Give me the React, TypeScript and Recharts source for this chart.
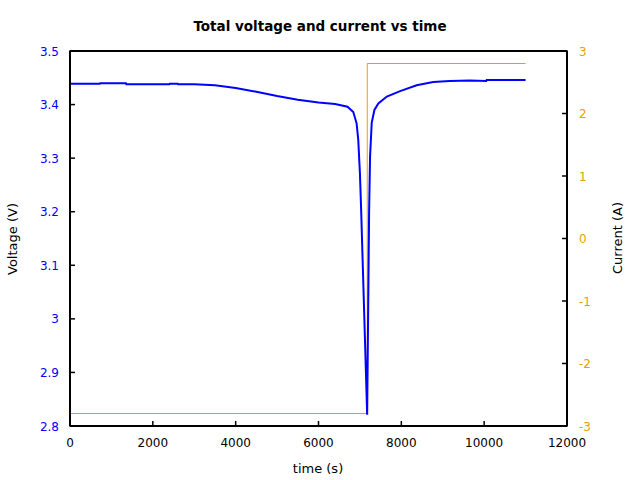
import { LineChart, Line, XAxis, YAxis, Label, ReferenceArea } from "recharts";

// Voltage trace (s, V)
const timeS = [
  0, 720, 730, 1350, 1360, 2400, 2410, 2600, 2610, 3000, 3500, 4000, 4500, 5000,
  5500, 6000, 6400, 6700, 6840, 6920, 6960, 7000, 7030, 7175, 7222, 7245, 7285,
  7350, 7445, 7650, 7970, 8370, 8770, 9170, 9650, 10050, 10060, 11000,
];
const voltageV = [
  3.439, 3.439, 3.44, 3.44, 3.438, 3.438, 3.439, 3.439, 3.438, 3.438, 3.436,
  3.431, 3.424, 3.416, 3.409, 3.404, 3.401, 3.396, 3.386, 3.365, 3.334, 3.272,
  3.203, 2.821, 3.2, 3.303, 3.366, 3.39, 3.402, 3.415, 3.425, 3.436, 3.442,
  3.444, 3.445, 3.444, 3.446, 3.446,
];

// Current step (s, A)
const currentTimeS = [0, 7177, 7177, 11000];
const currentA = [-2.8, -2.8, 2.8, 2.8];

const timeTicks = [0, 2000, 4000, 6000, 8000, 10000, 12000];
const voltageTicks = [2.8, 2.9, 3.0, 3.1, 3.2, 3.3, 3.4, 3.5];
const currentTicks = [-3, -2, -1, 0, 1, 2, 3];

const BLUE = "#0000ff";
const ORANGE = "#e69f00";
const INK = "#000000";
const FONT = "'DejaVu Sans', sans-serif";

// plot frame (gnuplot-like box, ticks point inward -- recharts ignores a
// negative tickSize, so the tick marks are drawn by the custom ticks)
const LEFT = 70;
const RIGHT = 567;
const TOP = 51;
const BOTTOM = 426;
const TICK = 5;
const AXIS = { stroke: INK, strokeWidth: 2 };

const voltageData = timeS.map((t, i) => ({ t, v: voltageV[i] }));
const currentData = currentTimeS.map((t, i) => ({ t, a: currentA[i] }));

const fmt = (v: number) => String(Number(v.toFixed(1)));

const BottomTick = (p: any) => (
  <g>
    <line x1={p.x} x2={p.x} y1={BOTTOM} y2={BOTTOM - TICK} stroke={INK} strokeWidth={1.5} />
    <text x={p.x} y={BOTTOM + 21} textAnchor="middle" fontSize={12} fill="#000" fontFamily={FONT}>
      {p.payload.value}
    </text>
  </g>
);

const TopTick = (p: any) => (
  <line x1={p.x} x2={p.x} y1={TOP} y2={TOP + TICK} stroke={INK} strokeWidth={1.5} />
);

const LeftTick = (p: any) => (
  <g>
    <line x1={LEFT} x2={LEFT + TICK} y1={p.y} y2={p.y} stroke={INK} strokeWidth={1.5} />
    <text x={LEFT - 11} y={p.y + 4.5} textAnchor="end" fontSize={12} fill={BLUE} fontFamily={FONT}>
      {fmt(p.payload.value)}
    </text>
  </g>
);

const RightTick = (p: any) => (
  <g>
    <line x1={RIGHT} x2={RIGHT - TICK} y1={p.y} y2={p.y} stroke={INK} strokeWidth={1.5} />
    <text x={RIGHT + 12} y={p.y + 4.5} textAnchor="start" fontSize={12} fill={ORANGE} fontFamily={FONT}>
      {p.payload.value}
    </text>
  </g>
);

export default function App() {
  return (
    <div style={{ position: "absolute", left: 0, top: 0, fontFamily: FONT }}>
      <div
        style={{
          position: "absolute",
          top: 18,
          left: 0,
          width: 640,
          textAlign: "center",
          fontWeight: "bold",
          fontSize: 13.5,
          color: "#000",
          lineHeight: "17px",
        }}
      >
        Total voltage and current vs time
      </div>
      <LineChart width={640} height={480} margin={{ top: TOP - 1, right: 0, bottom: 0, left: 0 }}>
        <XAxis
          dataKey="t"
          type="number"
          domain={[0, 12000]}
          ticks={timeTicks}
          height={480 - BOTTOM}
          tickLine={false}
          tick={BottomTick}
          axisLine={AXIS}
        >
          <Label
            content={() => (
              <text x={318} y={473} textAnchor="middle" fontSize={13} fill="#000" fontFamily={FONT}>
                time (s)
              </text>
            )}
          />
        </XAxis>
        <XAxis
          xAxisId="top"
          orientation="top"
          dataKey="t"
          type="number"
          domain={[0, 12000]}
          ticks={timeTicks}
          height={1}
          tickLine={false}
          tick={TopTick}
          axisLine={AXIS}
        />
        <YAxis
          yAxisId="v"
          type="number"
          domain={[2.8, 3.5]}
          ticks={voltageTicks}
          width={LEFT}
          tickLine={false}
          tick={LeftTick}
          axisLine={AXIS}
        >
          <Label
            content={() => (
              <text
                x={17}
                y={239}
                transform="rotate(-90 17 239)"
                textAnchor="middle"
                fontSize={13}
                fill="#000"
                fontFamily={FONT}
              >
                Voltage (V)
              </text>
            )}
          />
        </YAxis>
        <YAxis
          yAxisId="a"
          orientation="right"
          type="number"
          domain={[-3, 3]}
          ticks={currentTicks}
          width={640 - RIGHT}
          tickLine={false}
          tick={RightTick}
          axisLine={AXIS}
        >
          <Label
            content={() => (
              <text
                x={622}
                y={238}
                transform="rotate(-90 622 238)"
                textAnchor="middle"
                fontSize={13}
                fill="#000"
                fontFamily={FONT}
              >
                Current (A)
              </text>
            )}
          />
        </YAxis>
        <ReferenceArea
          yAxisId="v"
          x1={0}
          x2={12000}
          y1={2.8}
          y2={3.5}
          fill="none"
          fillOpacity={0}
          stroke={INK}
          strokeWidth={1.5}
          ifOverflow="visible"
        />
        <Line
          yAxisId="a"
          data={currentData}
          dataKey="a"
          type="linear"
          stroke={ORANGE}
          strokeWidth={1}
          dot={false}
          isAnimationActive={false}
        />
        <Line
          yAxisId="v"
          data={voltageData}
          dataKey="v"
          type="linear"
          stroke={BLUE}
          strokeWidth={2}
          dot={false}
          isAnimationActive={false}
        />
      </LineChart>
    </div>
  );
}
